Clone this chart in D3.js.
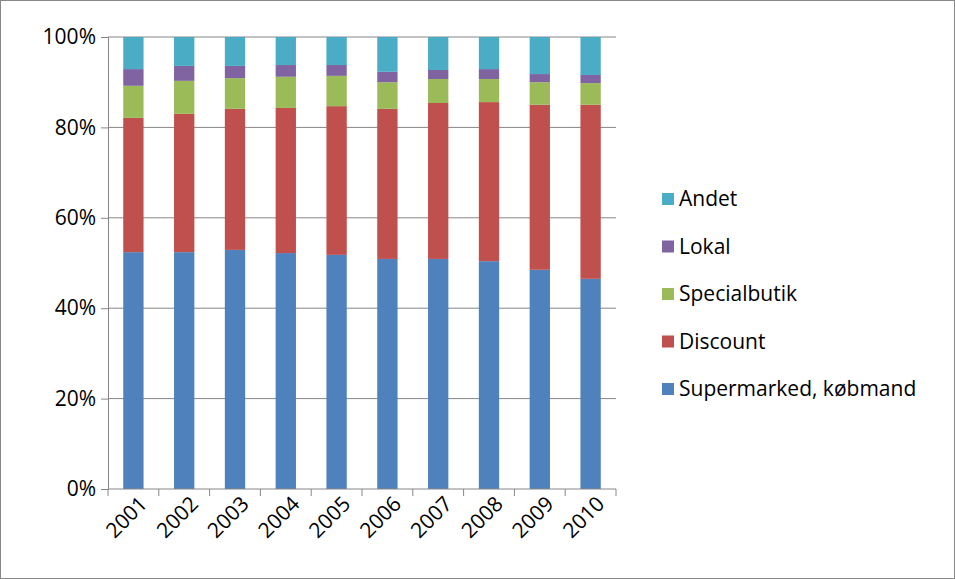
<!DOCTYPE html>
<html><head><meta charset="utf-8">
<script src="https://cdn.jsdelivr.net/npm/d3@7"></script>
<style>body{margin:0;background:#fff;font-family:"Open Sans",Arial,sans-serif}</style>
</head><body><div id="chart"></div>
<script>
var years = ["2001","2002","2003","2004","2005","2006","2007","2008","2009","2010"];
var seriesNames = ["Supermarked, købmand","Discount","Specialbutik","Lokal","Andet"];
var colors = ["#4F81BD","#C0504D","#9BBB59","#8064A2","#4BACC6"];
var supermarked = [52.4,52.4,52.9,52.2,51.8,50.9,50.9,50.4,48.5,46.5];
var discount    = [29.7,30.6,31.2,32.1,32.9,33.2,34.5,35.2,36.5,38.5];
var special     = [7.1,7.3,6.8,6.9,6.7,5.9,5.3,5.1,5.0,4.8];
var lokal       = [3.7,3.3,2.7,2.6,2.4,2.3,2.0,2.2,1.8,1.8];
var andet       = [7.1,6.4,6.4,6.2,6.2,7.7,7.3,7.1,8.2,8.4];
var yTicks = [0,20,40,60,80,100];

var W = 955, H = 579;
var FONT = "21px";
var svg = d3.select("#chart").append("svg").attr("width", W).attr("height", H);
svg.append("rect").attr("x",0.5).attr("y",0.5).attr("width",W-1).attr("height",H-1)
   .attr("fill","#fff").attr("stroke","#888");

var x = d3.scaleBand().domain(years).range([108, 616]).paddingInner(0.6).paddingOuter(0.3);
var y = d3.scaleLinear().domain([0,100]).range([489, 37]);

var rows = years.map(function(yr, i) {
  return {year: yr, 0: supermarked[i], 1: discount[i], 2: special[i], 3: lokal[i], 4: andet[i]};
});
var stack = d3.stack().keys([0,1,2,3,4])(rows);

// gridlines
svg.append("g").selectAll("line").data(yTicks.slice(1)).enter().append("line")
   .attr("x1",108).attr("x2",616).attr("y1",d=>y(d)).attr("y2",d=>y(d))
   .attr("stroke","#868686").attr("stroke-width",1);

svg.append("g").selectAll("g").data(stack).enter().append("g")
   .attr("fill", (d,i) => colors[i])
   .selectAll("rect").data(d => d).enter().append("rect")
   .attr("x", d => x(d.data.year)).attr("width", x.bandwidth())
   .attr("y", d => y(d[1])).attr("height", d => y(d[0]) - y(d[1]));

// y axis
var yAxis = svg.append("g").attr("transform","translate(108,0)")
   .call(d3.axisLeft(y).tickValues(yTicks).tickFormat(d => d + "%").tickSize(7).tickPadding(5));
yAxis.select(".domain").attr("stroke","#868686");
yAxis.selectAll("line").attr("stroke","#868686");
yAxis.selectAll("text").style("font-size",FONT).style("font-family","Open Sans").attr("fill","#000");

// x axis
var step = x.step();
var xg = svg.append("g");
xg.append("line").attr("x1",108).attr("x2",616).attr("y1",489).attr("y2",489).attr("stroke","#868686");
var bounds = years.map(yr => x(yr) + x.bandwidth()/2 - step/2).concat([616]);
xg.selectAll(".tk").data(bounds).enter().append("line")
  .attr("x1",d=>d).attr("x2",d=>d).attr("y1",489).attr("y2",496).attr("stroke","#868686");
xg.selectAll("text").data(years).enter().append("text")
  .attr("transform", d => "translate(" + (x(d) + x.bandwidth()/2 + 10) + ",500) rotate(-45)")
  .attr("text-anchor","end").attr("dy","0.35em")
  .style("font-size",FONT).text(d => d);

// legend
var legend = svg.append("g").selectAll("g").data(seriesNames.slice().reverse()).enter().append("g")
  .attr("transform", (d,i) => "translate(662," + (199 + i*47.5) + ")");
legend.append("rect").attr("x",0).attr("y",-6).attr("width",12).attr("height",12)
  .attr("fill", (d,i) => colors[4-i]);
legend.append("text").attr("x",17).attr("dy","0.35em").style("font-size",FONT).text(d => d);
</script></body></html>
